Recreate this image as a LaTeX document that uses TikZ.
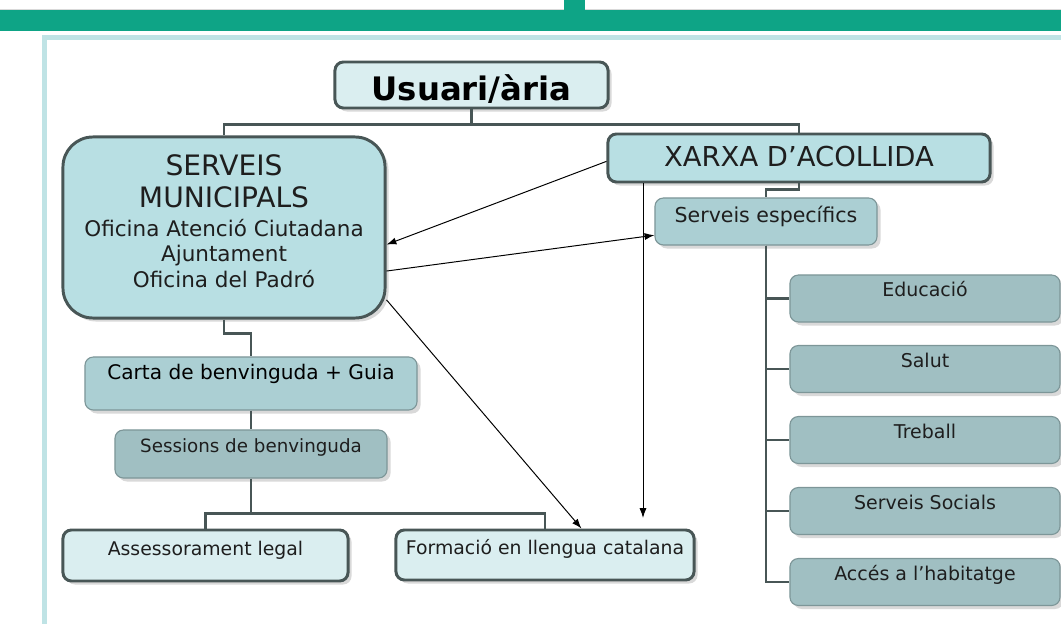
\documentclass[tikz,border=0pt]{standalone}
\usepackage{fontspec}
\setmainfont{DejaVu Sans}
\usetikzlibrary{arrows.meta,shadows}

\definecolor{barGreen}{RGB}{14,164,134}
\definecolor{frameCyan}{RGB}{191,227,229}
\definecolor{edgeDark}{RGB}{72,86,86}
\definecolor{edgeLight}{RGB}{125,150,152}
\definecolor{fillPale}{RGB}{218,238,240}
\definecolor{fillMid}{RGB}{184,223,227}
\definecolor{fillBlue}{RGB}{171,207,211}
\definecolor{fillGray}{RGB}{160,191,194}
\definecolor{inkDark}{RGB}{30,30,30}

\begin{document}
\begin{tikzpicture}[x=0.025cm, y=-0.025cm,
    mainbox/.style={draw=edgeDark, line width=2.1pt, rounded corners=6pt, inner sep=0pt, text=inkDark,
      drop shadow={shadow xshift=2.5pt, shadow yshift=-2.5pt, opacity=.3}},
    subbox/.style={mainbox, draw=edgeLight, line width=0.8pt},
    itembox/.style={subbox, fill=fillGray, minimum width=6.75cm, minimum height=1.175cm,
      font=\fontsize{13.5}{16}\selectfont, text height=9.85pt, text depth=12pt},
    tree/.style={draw=edgeDark, line width=2pt},
    arr/.style={-{Latex[length=7pt,width=5pt]}, line width=0.7pt}]
    \useasboundingbox (0,0) rectangle (1061,624);
    % page frame
    \draw[black!15, line width=0.5pt] (0,9) -- (564,9) (585,9) -- (1061,9);
    \fill[barGreen] (0,10) rectangle (1061,31);
    \fill[barGreen] (564,0) rectangle (585,10);
    \fill[frameCyan] (42,35) rectangle (1061,40);
    \fill[frameCyan] (42,35) rectangle (47,624);

    % boxes
    \node[mainbox, fill=fillPale, minimum width=6.825cm, minimum height=1.15cm, text=black,
      font=\bfseries\fontsize{23}{26}\selectfont, text height=21.8pt, text depth=0pt] (usr) at (471.5,85) {Usuari/ària};
    \node[mainbox, fill=fillMid, rounded corners=0.75cm, minimum width=8.05cm, minimum height=4.525cm,
      align=center, font=\fontsize{15.3}{18}\selectfont, text depth=9.2pt] (mun) at (224,227.5)
      {{\fontsize{20}{24}\selectfont SERVEIS}\\[4.8pt]{\fontsize{20}{24}\selectfont MUNICIPALS}\\[2.6pt]Oficina Atenció Ciutadana\\Ajuntament\\Oficina del Padró};
    \node[mainbox, fill=fillMid, minimum width=9.55cm, minimum height=1.2cm,
      font=\fontsize{19.5}{22}\selectfont, text height=14.2pt, text depth=2.8pt] (xarxa) at (799,158) {XARXA D’ACOLLIDA};
    \node[subbox, fill=fillBlue, minimum width=5.55cm, minimum height=1.175cm,
      font=\fontsize{14.6}{17}\selectfont, text height=10.7pt, text depth=9.2pt] (esp) at (766,221.5) {Serveis específics};
    \foreach \nm/\y/\txt in {edu/298.5/Educació, sal/369/Salut, tre/440/Treball, soc/511/Serveis Socials, hab/582/Accés a l’habitatge}
        \node[itembox] (\nm) at (925,\y) {\txt};
    \node[subbox, fill=fillBlue, minimum width=8.3cm, minimum height=1.325cm, text=black,
      font=\fontsize{14.3}{17}\selectfont, text height=10.4pt, text depth=15.6pt] (carta) at (251,383.5) {Carta de benvinguda + Guia};
    \node[subbox, fill=fillGray, minimum width=6.8cm, minimum height=1.2cm,
      font=\fontsize{13}{16}\selectfont, text height=9.5pt, text depth=11.4pt] (ses) at (251,454) {Sessions de benvinguda};
    \node[mainbox, fill=fillPale, minimum width=7.125cm, minimum height=1.275cm,
      font=\fontsize{13.4}{16}\selectfont, text height=9.8pt, text depth=10pt] (ass) at (205.5,555.5) {Assessorament legal};
    \node[mainbox, fill=fillPale, minimum width=7.45cm, minimum height=1.25cm,
      font=\fontsize{13.4}{16}\selectfont, text height=9.8pt, text depth=10pt] (form) at (545,555) {Formació en llengua catalana};

    % tree lines
    \draw[tree] (usr.south) -- ++(0,15) coordinate (j1);
    \draw[tree] (mun.north) |- (j1) -| (xarxa.north);
    \draw[tree] (xarxa.south) -- ++(0,6) -| (esp.north);
    \foreach \nm in {edu,sal,tre,soc,hab}
        \draw[tree] (esp.south) |- (\nm.west);
    \draw[tree] (mun.south) -- ++(0,14) -| (carta.north);
    \draw[tree] (carta.south) -- (ses.north);
    \draw[tree] (ses.south) -- ++(0,35) coordinate (j3);
    \draw[tree] (ass.north) |- (j3) -| (form.north);

    % arrows
    \draw[arr] (xarxa.181) -- (mun.-6);
    \draw[arr] (mun.-15) -- (esp.187);
    \draw[arr] (mun.-24) -- (form.36);
    \coordinate (fdrop) at (643,518);
    \draw[arr] (xarxa.south -| fdrop) -- (fdrop);
\end{tikzpicture}
\end{document}
